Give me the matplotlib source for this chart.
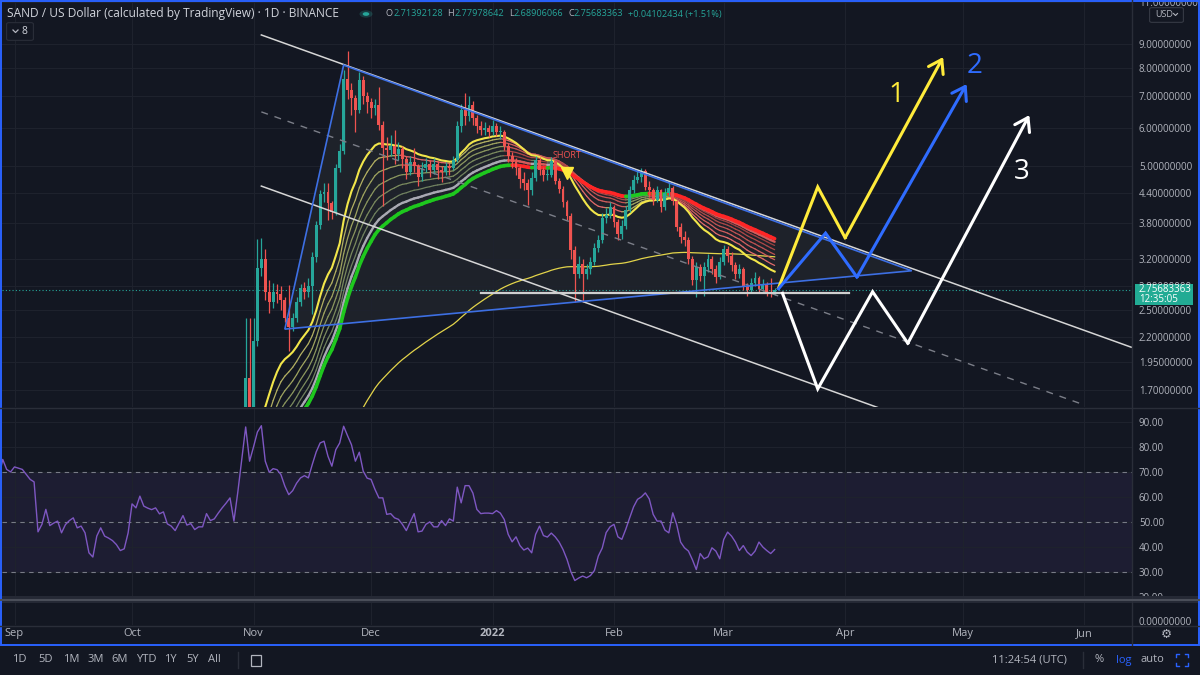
import numpy as np
import pandas as pd
import matplotlib
matplotlib.use("Agg")
import matplotlib.pyplot as plt
import matplotlib.dates as mdates
import matplotlib.ticker as mticker
from matplotlib.collections import LineCollection
from matplotlib.patches import Rectangle, Polygon, FancyBboxPatch, Circle
from matplotlib.lines import Line2D

plt.rcParams['font.family'] = ['Open Sans', 'DejaVu Sans']

# ---------------- data: SAND/USD 1D (Binance) ----------------
last_day = '2022-03-14'

# daily closes, 2021-09-01 .. 2022-03-14
closes = [
    # Sep
    0.80, 0.85, 0.88, 0.92, 0.95, 0.93, 0.78, 0.78, 0.80, 0.76,
    0.78, 0.80, 0.74, 0.76, 0.80, 0.79, 0.77, 0.76, 0.74, 0.68,
    0.66, 0.72, 0.70, 0.66, 0.67, 0.66, 0.65, 0.63, 0.64, 0.68,
    # Oct
    0.74, 0.73, 0.76, 0.74, 0.73, 0.74, 0.73, 0.73, 0.71, 0.70,
    0.69, 0.68, 0.71, 0.70, 0.70, 0.69, 0.70, 0.70, 0.72, 0.71,
    0.72, 0.73, 0.75, 0.77, 0.79, 0.80, 0.75, 0.95, 1.30, 1.80, 1.50,
    # Nov
    2.15, 3.06, 3.20, 2.72, 2.60, 2.72, 2.70, 2.62, 2.40, 2.30,
    2.40, 2.60, 2.78, 2.72, 2.80, 3.22, 3.76, 4.36, 4.42, 4.18,
    4.00, 4.96, 5.37, 7.60, 7.20, 6.95, 6.55, 7.57, 7.00, 6.80,
    # Dec
    6.60, 6.70, 6.08, 5.46, 5.40, 5.52, 5.30, 5.44, 5.17, 4.87,
    5.09, 5.00, 4.75, 4.95, 5.05, 4.90, 5.05, 4.90, 4.85, 5.00,
    4.95, 5.15, 6.05, 6.55, 6.35, 6.70, 6.30, 6.05, 5.95, 6.00, 5.90,
    # Jan
    6.05, 5.90, 5.90, 5.50, 5.25, 5.10, 4.95, 4.70, 4.60, 4.45,
    4.72, 5.14, 4.90, 4.78, 4.80, 5.12, 4.66, 4.48, 4.20, 3.93,
    3.34, 2.98, 3.12, 2.98, 3.05, 3.15, 3.37, 3.50, 3.90, 3.95, 4.10,
    # Feb
    3.82, 3.60, 3.75, 4.05, 4.46, 4.68, 4.75, 4.88, 4.53, 4.45,
    4.25, 4.45, 4.10, 4.40, 4.50, 4.22, 3.73, 3.56, 3.50, 3.20,
    2.89, 3.08, 2.95, 3.07, 3.20, 3.05, 2.93, 3.15,
    # Mar
    3.35, 3.25, 3.10, 2.97, 3.05, 2.80, 2.75, 2.85, 2.92, 2.77,
    2.82, 2.72, 2.71392128, 2.75683363,
]

# highs / lows of the candles visible in the pane (2021-10-29 .. 2022-03-14)
highs = [
    1.45, 2.41, 2.40,
    2.41, 3.52, 3.54, 3.35, 2.89, 2.85, 2.84, 2.80, 2.66, 2.82,
    2.46, 2.66, 2.84, 2.86, 2.92, 3.30, 3.84, 4.45, 4.60, 4.60,
    4.22, 5.05, 5.55, 7.94, 8.70, 7.45, 7.05, 7.85, 7.70, 7.15,
    6.95, 6.90, 7.30, 6.20, 5.75, 5.80, 5.95, 5.62, 5.50, 5.25,
    5.25, 5.45, 5.05, 5.10, 5.20, 5.15, 5.20, 5.12, 5.00, 5.10,
    5.08, 5.25, 6.20, 6.75, 7.10, 7.00, 6.85, 6.40, 6.20, 6.18, 6.10,
    6.25, 6.15, 6.05, 5.95, 5.60, 5.35, 5.20, 5.00, 4.85, 4.70,
    4.85, 5.25, 5.22, 4.98, 4.92, 5.22, 5.15, 4.72, 4.55, 4.25,
    3.98, 3.40, 3.25, 3.20, 3.12, 3.22, 3.45, 3.58, 3.98, 4.08, 4.20,
    4.15, 3.88, 3.85, 4.12, 4.55, 4.78, 4.92, 4.95, 4.92, 4.65,
    4.50, 4.55, 4.48, 4.50, 4.62, 4.55, 4.25, 3.80, 3.65, 3.55,
    3.25, 3.15, 3.12, 3.15, 3.28, 3.25, 3.10, 3.22,
    3.42, 3.40, 3.30, 3.15, 3.12, 3.08, 2.85, 2.92, 3.00, 2.95,
    2.90, 2.86, 2.92, 2.77978642,
]
lows = [
    0.92, 1.25, 1.45,
    1.48, 2.10, 2.95, 2.62, 2.46, 2.52, 2.58, 2.50, 2.36, 2.05,
    2.26, 2.36, 2.55, 2.64, 2.66, 2.45, 3.15, 3.70, 4.20, 3.86,
    3.88, 3.95, 4.85, 5.30, 6.90, 6.40, 5.90, 6.45, 6.75, 6.45,
    6.30, 6.40, 5.95, 4.13, 5.15, 5.25, 5.05, 5.15, 4.95, 4.70,
    4.80, 4.85, 4.55, 4.65, 4.85, 4.75, 4.82, 4.70, 4.62, 4.78,
    4.80, 4.90, 5.10, 5.90, 6.10, 6.20, 6.10, 5.85, 5.80, 5.82, 5.75,
    5.80, 5.78, 5.70, 5.40, 5.10, 4.95, 4.80, 4.50, 4.45, 4.15,
    4.35, 4.65, 4.80, 4.65, 4.68, 4.75, 4.58, 4.40, 4.10, 3.85,
    3.20, 2.60, 2.92, 2.60, 2.90, 2.98, 3.10, 3.30, 3.45, 3.80, 3.90,
    3.72, 3.50, 3.52, 3.70, 4.00, 4.40, 4.60, 4.62, 4.45, 4.30,
    4.15, 4.20, 4.00, 4.05, 4.32, 4.15, 3.65, 3.45, 3.40, 3.12,
    2.82, 2.66, 2.88, 2.68, 3.00, 2.98, 2.85, 2.90,
    3.10, 3.15, 3.02, 2.90, 2.92, 2.75, 2.68, 2.72, 2.80, 2.72,
    2.74, 2.68, 2.66, 2.68906066,
]

# RSI(14), 2021-08-28 .. 2022-03-14
rsi = [
    68, 75, 71, 70,
    72, 71.5, 71, 69, 67, 66, 46, 49, 55, 48.5, 49.5, 50.3, 45.6, 48.9, 50.5,
    51.6, 47.6, 48.3, 45.6, 37.6, 35.9, 44.3, 47.6, 44.3, 43.5, 42.5, 40.9,
    38.5, 39.2, 45.6,
    57.2, 55.6, 60.3, 56.3, 55.5, 54.9, 55.6, 53.2, 54, 49.2, 48.3, 46.5, 49.5,
    52.5, 48.7, 49.3, 46.9, 48, 48, 53.3, 50.5, 51.2, 53.5, 55.6, 57.5, 59.6,
    50.3, 62, 75, 88, 74.3,
    80, 86, 88.5, 74.3, 69.9, 71.3, 70.9, 68.9, 64.3, 60.9, 62.5, 65.5, 67.6,
    68.5, 67.6, 73, 78, 81.6, 82.3, 76.3, 72.3, 78.9, 81.6, 88.3, 84.5, 80.9,
    74.3, 77.9, 70.3, 67.5,
    67, 63, 59.6, 59.6, 53, 53.3, 51.6, 51, 49, 46.5, 50, 53.3, 46, 46.3, 49,
    50, 48, 48, 50.5, 48.5, 51.2, 50.3, 63.9, 57.6, 64.5, 64.5, 61.5, 55, 53.3,
    53.5, 53.5,
    53.3, 54.5, 53.5, 50.9, 45, 42, 44, 40.5, 38.7, 39.5, 37.6, 45, 48.3, 44.5,
    43.9, 45.5, 44, 41.9, 38.9, 35, 30, 26.5, 27.5, 28.3, 27.6, 28.5, 30.5,
    36.3, 39.5, 45.7, 48,
    49, 44, 43, 47, 51.6, 56, 59, 60, 61.6, 59.2, 53, 50.3, 50.3, 46.7, 45.6,
    53.6, 48.9, 41.9, 39.6, 38.3, 34.9, 30.9, 37.3, 35.2, 36, 39.6, 38.3, 35.2,
    42.9, 45.9, 44.3, 41.9, 38.5, 40.5, 37.9, 36.5, 38.3, 41.9, 39.9, 38.5,
    37.3, 38.9,
]

ribbon_spans = [20, 25, 30, 35, 40, 45, 50, 55]
ema200_start = 0.60          # EMA200 value carried in from before September

last_price = 2.75683363
header_ohlc = [('O', '2.71392128'), ('H', '2.77978642'), ('L', '2.68906066'),
               ('C', '2.75683363')]
header_change = '+0.04102434 (+1.51%)'

price_ticks = [1.7, 1.95, 2.2, 2.5, 2.8, 3.2, 3.8, 4.4, 5.0, 6.0, 7.0, 8.0, 9.0, 11.0]
rsi_ticks = [20, 30, 40, 50, 60, 70, 80, 90]
month_starts = ['2021-09-01', '2021-10-01', '2021-11-01', '2021-12-01', '2022-01-01',
                '2022-02-01', '2022-03-01', '2022-04-01', '2022-05-01', '2022-06-01']
month_labels = ['Sep', 'Oct', 'Nov', 'Dec', '2022', 'Feb', 'Mar', 'Apr', 'May', 'Jun']

# drawings (date, price)
upper_channel = (['2021-11-03', '2022-06-13'], [9.40, 2.09])
lower_channel = (['2021-11-03', '2022-04-10'], [4.54, 1.556])
mid_channel = (['2021-11-03', '2022-06-01'], [6.49, 1.583])
wedge = (['2021-11-09', '2021-11-24', '2022-04-18'], [2.28, 8.13, 3.02])
support = (['2021-12-29', '2022-04-02'], [2.71, 2.71])
path1 = (['2022-03-15', '2022-03-25', '2022-04-01', '2022-04-26'], [2.78, 4.52, 3.54, 8.45])
path2 = (['2022-03-15', '2022-03-27', '2022-04-04', '2022-05-02'], [2.77, 3.62, 2.93, 7.42])
path3 = (['2022-03-16', '2022-03-25', '2022-04-08', '2022-04-17', '2022-05-18'],
         [2.71, 1.71, 2.73, 2.13, 6.39])
path_labels = [('1', '2022-04-14', 7.04), ('2', '2022-05-04', 8.10), ('3', '2022-05-16', 4.86)]
short_signal = ('2022-01-20', 5.27, 4.84)

# ---------------- style ----------------
BG = '#131722'
GRID = '#1e222d'
TXT = '#b2b5be'
UP = '#26a69a'
DOWN = '#ef5350'
BORDER = '#2a2e39'
BLUE = '#2962ff'
AXFS = 7

W, H = 1200, 675
fig = plt.figure(figsize=(W / 100, H / 100), dpi=100, facecolor=BG)


def box(x0, y0, x1, y1):
    return [x0 / W, 1 - y1 / H, (x1 - x0) / W, (y1 - y0) / H]


def fxy(x, y):
    return x / W, 1 - y / H


def dn(d):
    return mdates.date2num(pd.to_datetime(d))


ax = fig.add_axes(box(2, 1, 1132, 407))
ax_rsi = fig.add_axes(box(2, 408, 1132, 597), sharex=ax)
ax_low = fig.add_axes(box(2, 603, 1132, 625), sharex=ax)
for a in (ax, ax_rsi, ax_low):
    a.set_facecolor(BG)
    for s in a.spines.values():
        s.set_visible(False)
    a.tick_params(length=0, colors=TXT, labelsize=AXFS)

ax.set_xlim(dn('2021-08-28 19:25'), dn('2022-06-13 05:00'))
ax_low.set_xticks(dn(month_starts), month_labels)
ax_low.get_xticklabels()[4].set_fontweight('bold')
ax_low.tick_params(axis='x', pad=2.5, labelsize=8)
ax.tick_params(axis='x', labelbottom=False)
ax_rsi.tick_params(axis='x', labelbottom=False)

# ---- price pane ----
ax.set_yscale('log')
ax.set_ylim(1.567, 11.07)
ax.set_yticks(price_ticks, [f'{t:.8f}' for t in price_ticks])
ax.yaxis.set_minor_locator(mticker.NullLocator())
ax.yaxis.tick_right()
ax.tick_params(axis='y', pad=5)
ax.grid(True, color=GRID, lw=0.8)

c_all = np.array(closes)
o_all = np.r_[c_all[0], c_all[:-1]]
x_all = dn(pd.date_range(end=last_day, periods=len(c_all), freq='D'))
n = len(highs)
xc, o, c = x_all[-n:], o_all[-n:], c_all[-n:]
hi, lo = np.array(highs), np.array(lows)
col = np.where(c >= o, UP, DOWN)


def ema(values, span, start=None):
    a = 2.0 / (span + 1)
    prev = values[0] if start is None else start
    out = np.empty(len(values))
    for i, v in enumerate(values):
        prev = prev + a * (v - prev)
        out[i] = prev
    return out


def slope_line(x, y, up_col, dn_col, lw, z):
    pts = np.column_stack([x, y])
    segs = np.stack([pts[:-1], pts[1:]], axis=1)
    cols = [up_col if b >= a else dn_col for a, b in zip(y[:-1], y[1:])]
    ax.add_collection(LineCollection(segs, colors=cols, linewidths=lw, zorder=z,
                                     capstyle='round'))


# wedge fill under everything
wx = dn(wedge[0])
ax.add_patch(Polygon(np.column_stack([wx, wedge[1]]), closed=True, facecolor='#a6a894',
                     alpha=0.08, edgecolor='none', zorder=1))

# EMA 200
ax.plot(x_all, ema(c_all, 200, ema200_start), color='#e3d44a', lw=0.9, zorder=2)

# EMA ribbon
thin_up = ['#b3b062', '#9ea35f', '#8a965e', '#7a8a5e', '#6f805f']
thin_dn = ['#e06a6a', '#cf5d5d', '#bf5252', '#ad4848', '#9c4040']
for i, span in enumerate(ribbon_spans):
    e = ema(c_all, span)
    if i == 0:
        ax.plot(x_all, e, color='#f2e64a', lw=1.5, zorder=3.5)
    elif span == 50:
        slope_line(x_all, e, '#a9a9b3', '#d45a5a', 1.7, 3.2)
    elif span == 55:
        slope_line(x_all, e, '#1ec81e', '#ff2626', 2.6, 3.3)
    else:
        slope_line(x_all, e, thin_up[i - 1], thin_dn[i - 1], 0.9, 3.0)

# candles
ax.vlines(xc, lo, hi, colors=col, lw=0.9, zorder=4)
body = np.maximum(np.abs(c - o), c * 0.005)
ax.bar(xc, body, bottom=np.minimum(o, c), width=0.74, color=col, lw=0, zorder=5)

# channel / wedge / support
ax.plot(dn(upper_channel[0]), upper_channel[1], color='#d6d6d6', lw=1.1, zorder=6)
ax.plot(dn(lower_channel[0]), lower_channel[1], color='#d6d6d6', lw=1.1, zorder=6)
ax.plot(dn(mid_channel[0]), mid_channel[1], color='#7b7e88', lw=1.0, ls=(0, (5, 5)), zorder=6)
ax.add_patch(Polygon(np.column_stack([wx, wedge[1]]), closed=True, fill=False,
                     edgecolor='#3d6fe3', lw=1.2, zorder=6))
ax.plot(dn(support[0]), support[1], color='#cfcfcf', lw=1.6, zorder=6)
ax.axhline(last_price, color=UP, lw=0.8, ls=(0, (1, 2)), zorder=2)


def scenario(path, color):
    x = dn(path[0])
    y = path[1]
    ax.plot(x[:-1], y[:-1], color=color, lw=2.2, zorder=8, solid_joinstyle='miter')
    ax.annotate('', xy=(x[-1], y[-1]), xytext=(x[-2], y[-2]), zorder=8,
                arrowprops=dict(arrowstyle='->,head_length=0.45,head_width=0.3',
                                color=color, lw=2.2, shrinkA=0, shrinkB=0,
                                mutation_scale=20))


scenario(path1, '#ffeb3b')
scenario(path2, '#2f6cff')
scenario(path3, '#ffffff')
for (lab, d, p), colr in zip(path_labels, ['#ffeb3b', '#2f6cff', '#ffffff']):
    ax.text(dn(d), p, lab, color=colr, fontsize=20, ha='center', va='center', zorder=9)

sd, sp, mp = short_signal
ax.text(dn(sd), sp, 'SHORT', color='#f05252', fontsize=6.5, ha='center', va='center', zorder=9)
ax.plot(dn(sd), mp, marker='v', color='#ffeb3b', ms=8, zorder=9)

# ---- RSI pane ----
ax_rsi.set_ylim(19.9, 95.6)
ax_rsi.yaxis.tick_right()
ax_rsi.set_yticks(rsi_ticks, [f'{v:.2f}' for v in rsi_ticks])
ax_rsi.tick_params(axis='y', pad=5)
ax_rsi.grid(True, color=GRID, lw=0.8)
ax_rsi.axhspan(30, 70, color='#7e57c2', alpha=0.1, lw=0)
for lv in (70, 50, 30):
    ax_rsi.axhline(lv, color='#787b86', lw=0.8, ls=(0, (4, 4)))
x_rsi = dn(pd.date_range(end=last_day, periods=len(rsi), freq='D'))
ax_rsi.plot(x_rsi, rsi, color='#7e57c2', lw=1.0)

# ---- small bottom pane ----
ax_low.set_ylim(-0.18, 0.82)
ax_low.yaxis.tick_right()
ax_low.set_yticks([0], ['0.00000000'])
ax_low.tick_params(axis='y', pad=5)
ax_low.grid(True, axis='x', color=GRID, lw=0.8)

# ---- frame, separators, overlays ----
def fig_line(xs, ys, color, lw, **kw):
    fig.add_artist(Line2D([x / W for x in xs], [1 - y / H for y in ys], color=color, lw=lw,
                          transform=fig.transFigure, **kw))


fig_line([1132, 1132], [0, 645], BORDER, 1)
fig_line([0, 1200], [407.5, 407.5], BORDER, 1)
fig_line([0, 1200], [625.5, 625.5], BORDER, 1)
fig.add_artist(Rectangle(fxy(0, 603), 1, 7 / H, transform=fig.transFigure,
                         color='#252935', lw=0))
fig_line([0, 1200], [599.5, 599.5], '#4a4e59', 1.5)
fig.add_artist(Rectangle(fxy(0.8, 645), 1198.4 / W, 644 / H, transform=fig.transFigure,
                         fill=False, edgecolor=BLUE, lw=1.4))

# current price label
fig.add_artist(Rectangle(fxy(1135, 305), 58 / W, 21 / H, transform=fig.transFigure,
                         color='#22ab94', lw=0))
fig.text(*fxy(1139, 289.5), f'{last_price:.8f}', color='white', fontsize=AXFS, va='center')
fig.text(*fxy(1139, 300), '12:35:05', color='white', fontsize=AXFS, va='center')

# USD box
fig.add_artist(FancyBboxPatch(fxy(1152, 21), 29 / W, 12 / H, transform=fig.transFigure,
                              boxstyle='round,pad=0.002', facecolor=BG,
                              edgecolor='#363a45', lw=0.8))
fig.text(*fxy(1155, 14.5), 'USD', color=TXT, fontsize=6.5, va='center')
fig_line([1173.5, 1175.5, 1177.5], [13.5, 15.5, 13.5], TXT, 0.8)

# collapsed-indicators box
fig.add_artist(FancyBboxPatch(fxy(9, 39), 22 / W, 15 / H, transform=fig.transFigure,
                              boxstyle='round,pad=0.002', facecolor=BG,
                              edgecolor=BORDER, lw=0.8))
fig_line([13, 15.5, 18], [30, 32.5, 30], TXT, 0.9)
fig.text(*fxy(22, 31.5), '8', color='#d1d4dc', fontsize=7.5, va='center')

# header legend
renderer = fig.canvas.get_renderer()


def put(x, y, s, color, size=9, **kw):
    t = fig.text(*fxy(x, y), s, color=color, fontsize=size, va='center', ha='left', **kw)
    return t.get_window_extent(renderer).x1


put(7, 14, 'SAND / US Dollar (calculated by TradingView) · 1D · BINANCE', '#d1d4dc', 8.6)
dot_x = 366
fig.add_artist(Circle(fxy(dot_x, 14), 6.5 / W, transform=fig.transFigure,
                      color=UP, alpha=0.25, lw=0))
fig.add_artist(Circle(fxy(dot_x, 14), 3.3 / W, transform=fig.transFigure, color=UP, lw=0))
x = 386
for lab, val in header_ohlc:
    x = put(x, 14, lab, TXT, 6.6)
    x = put(x, 14, val, UP, 6.6) + 5
put(x, 14, header_change, UP, 6.6)

# gear
fig.text(*fxy(1166, 634), '\u2699', color=TXT, fontsize=9, ha='center', va='center',
         family=['DejaVu Sans'])

# bottom toolbar
for lab, tx in zip(['1D', '5D', '1M', '3M', '6M', 'YTD', '1Y', '5Y', 'All'],
                   [12, 38, 63, 88, 111, 136, 164, 186, 208]):
    put(tx, 660, lab, TXT, 8)
fig_line([238, 238], [652, 668], BORDER, 1)
fig.add_artist(Rectangle(fxy(251, 666), 10 / W, 11 / H, transform=fig.transFigure,
                         fill=False, edgecolor=TXT, lw=0.9))
fig.text(*fxy(1067, 660), '11:24:54 (UTC)', color=TXT, fontsize=8, ha='right', va='center')
fig_line([1083, 1083], [652, 668], BORDER, 1)
fig.text(*fxy(1099, 660), '%', color=TXT, fontsize=8, ha='center', va='center')
fig.text(*fxy(1124, 660), 'log', color=BLUE, fontsize=8, ha='center', va='center')
fig.text(*fxy(1152, 660), 'auto', color=TXT, fontsize=8, ha='center', va='center')
for cx, cy, dx, dy in [(1176, 654, 1, 1), (1188, 654, -1, 1), (1176, 666, 1, -1),
                       (1188, 666, -1, -1)]:
    fig_line([cx + 3 * dx, cx, cx], [cy, cy, cy + 3 * dy], BLUE, 1)

fig.savefig('out.png', dpi=100, facecolor=BG)
